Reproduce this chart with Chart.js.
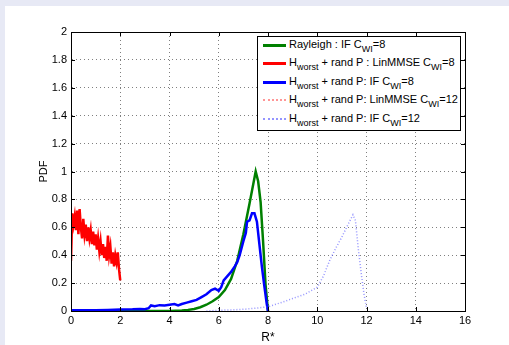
<!DOCTYPE html>
<html>
<head>
<meta charset="utf-8">
<script src="https://cdn.jsdelivr.net/npm/chart.js@4"></script>
<style>
  body { margin: 0; background: #e7e9f5; width: 509px; height: 345px; overflow: hidden; font-family: "Liberation Sans", Arial, sans-serif; }
  #panel { position: absolute; left: 5px; top: 6px; width: 504px; height: 339px; background: #fff; }
  #legend { position: absolute; left: 257px; top: 36px; width: 202px; height: 93px; border: 1px solid #000; background: #fff; font-size: 11px; color: #000; }
  .row { position: absolute; left: 0; height: 14px; white-space: nowrap; }
  .smp { position: absolute; left: 5px; top: 6px; width: 23px; height: 0; }
  .lbl { position: absolute; left: 31px; top: -1px; line-height: 14px; }
  sub { font-size: 9px; vertical-align: -4px; line-height: 0; }
</style>
</head>
<body>
<div id="panel"><canvas id="pdfChart"></canvas></div>
<div id="legend"></div>
<script>
// Rayleigh : IF C_WI=8
var greenX = [0, 1, 2, 3, 4, 4.25, 4.5, 4.75, 5.0, 5.25, 5.5, 5.75, 6.0, 6.25, 6.5, 6.75, 7.0, 7.25, 7.5, 7.6, 7.7, 7.8, 7.9, 8.0];
var greenY = [0, 0, 0, 0, 0, 0.002, 0.004, 0.008, 0.015, 0.027, 0.045, 0.07, 0.1, 0.15, 0.23, 0.36, 0.55, 0.77, 1.0, 0.93, 0.78, 0.5, 0.19, 0.0];

// H_worst + rand P : LinMMSE C_WI=8
var redX = [0, 0.05, 0.1, 0.15, 0.2, 0.25, 0.3, 0.35, 0.4, 0.45, 0.5, 0.55, 0.6, 0.65, 0.7, 0.75, 0.8, 0.85, 0.9, 0.95, 1.0,
            1.05, 1.1, 1.15, 1.2, 1.25, 1.3, 1.35, 1.4, 1.45, 1.5, 1.55, 1.6, 1.65, 1.7, 1.75, 1.8, 1.85, 1.9, 1.95, 2.0];
var redY = [0.36, 0.70, 0.62, 0.68, 0.58, 0.72, 0.55, 0.73, 0.60, 0.52, 0.66, 0.55, 0.62, 0.50, 0.60, 0.52, 0.58, 0.48, 0.57, 0.47, 0.55,
            0.44, 0.52, 0.43, 0.50, 0.40, 0.48, 0.38, 0.46, 0.36, 0.54, 0.40, 0.46, 0.34, 0.42, 0.32, 0.40, 0.35, 0.42, 0.30, 0.22];

// H_worst + rand P: IF C_WI=8
var blueX = [0, 0.5, 1.0, 1.5, 2.0, 2.5, 2.8, 3.0, 3.15, 3.25, 3.4, 3.6, 3.8, 4.0, 4.2, 4.35, 4.5, 4.7, 4.9, 5.1, 5.3, 5.5, 5.7, 5.85,
             6.0, 6.1, 6.2, 6.35, 6.5, 6.65, 6.75, 6.85, 7.0, 7.1, 7.15, 7.25, 7.35, 7.45, 7.55, 7.65, 7.75, 7.85, 7.95, 8.0];
var blueY = [0.005, 0.006, 0.005, 0.007, 0.01, 0.012, 0.015, 0.013, 0.02, 0.04, 0.035, 0.042, 0.04, 0.045, 0.05, 0.04, 0.05, 0.06, 0.07, 0.08, 0.10, 0.12, 0.15, 0.16,
             0.145, 0.17, 0.22, 0.25, 0.28, 0.32, 0.35, 0.40, 0.50, 0.56, 0.64, 0.65, 0.70, 0.70, 0.64, 0.48, 0.32, 0.18, 0.05, 0.0];

// H_worst + rand P: LinMMSE C_WI=12 (not visible in the plot)
var redDotX = [];
var redDotY = [];

// H_worst + rand P: IF C_WI=12
var blueDotX = [5.5, 6.0, 6.5, 7.0, 7.5, 8.0, 8.35, 8.7, 9.0, 9.5, 9.8, 10.0, 10.25, 10.5, 10.75, 11.0, 11.25, 11.45, 11.55, 11.67, 11.8, 11.9, 12.0];
var blueDotY = [0.0, 0.005, 0.008, 0.012, 0.02, 0.03, 0.05, 0.07, 0.09, 0.12, 0.15, 0.17, 0.25, 0.36, 0.45, 0.53, 0.62, 0.69, 0.65, 0.44, 0.25, 0.12, 0.02];

var xTicks = [0, 2, 4, 6, 8, 10, 12, 14, 16];
var yTicks = [0, 0.2, 0.4, 0.6, 0.8, 1, 1.2, 1.4, 1.6, 1.8, 2];

var legendLabels = [
    'Rayleigh : IF C<sub>WI</sub>=8',
    'H<sub>worst</sub> + rand P : LinMMSE C<sub>WI</sub>=8',
    'H<sub>worst</sub> + rand P: IF C<sub>WI</sub>=8',
    'H<sub>worst</sub> + rand P: LinMMSE C<sub>WI</sub>=12',
    'H<sub>worst</sub> + rand P: IF C<sub>WI</sub>=12'
];

function pts(xs, ys) {
    return xs.map(function (x, i) { return { x: x, y: ys[i] }; });
}

var styles = [
    { color: '#008000', width: 2.5, dash: [] },
    { color: '#ff0000', width: 2.5, dash: [] },
    { color: '#0000ff', width: 2.5, dash: [] },
    { color: 'rgba(255,80,80,0.6)', width: 1.5, dash: [1, 2] },
    { color: 'rgba(90,90,255,0.65)', width: 1.5, dash: [1, 2] }
];
var series = [pts(greenX, greenY), pts(redX, redY), pts(blueX, blueY), pts(redDotX, redDotY), pts(blueDotX, blueDotY)];

var datasets = series.map(function (d, i) {
    return {
        label: legendLabels[i],
        data: d,
        borderColor: styles[i].color,
        borderWidth: styles[i].width,
        borderDash: styles[i].dash,
        pointRadius: 0,
        tension: 0,
        fill: false,
        order: 5 - i
    };
});

// box + inward tick marks like the matlab axes
var framePlugin = {
    id: 'frame',
    afterDraw: function (chart) {
        var ctx = chart.ctx, a = chart.chartArea;
        var xs = chart.scales.x, ys = chart.scales.y;
        ctx.save();
        ctx.strokeStyle = '#000';
        ctx.lineWidth = 1;
        ctx.strokeRect(Math.round(a.left) + 0.5, Math.round(a.top) + 0.5, Math.round(a.right - a.left), Math.round(a.bottom - a.top));
        ctx.beginPath();
        xTicks.forEach(function (t) {
            var px = Math.round(xs.getPixelForValue(t)) + 0.5;
            ctx.moveTo(px, a.bottom); ctx.lineTo(px, a.bottom - 4);
            ctx.moveTo(px, a.top); ctx.lineTo(px, a.top + 4);
        });
        yTicks.forEach(function (t) {
            var py = Math.round(ys.getPixelForValue(t)) + 0.5;
            ctx.moveTo(a.left, py); ctx.lineTo(a.left + 4, py);
            ctx.moveTo(a.right, py); ctx.lineTo(a.right - 4, py);
        });
        ctx.stroke();
        ctx.restore();
    }
};

var tickFont = { family: "'Liberation Sans', Arial, sans-serif", size: 11 };

var ctx = document.getElementById('pdfChart').getContext('2d');
var pdfChart = new Chart(ctx, {
    type: 'line',
    data: { datasets: datasets },
    options: {
        responsive: true,
        maintainAspectRatio: false,
        animation: false,
        layout: { padding: { left: 0, top: 26, right: 44, bottom: 0 } },
        plugins: { legend: { display: false }, tooltip: { enabled: false } },
        scales: {
            x: {
                type: 'linear',
                min: 0, max: 16,
                afterBuildTicks: function (s) { s.ticks = xTicks.map(function (v) { return { value: v }; }); },
                afterFit: function (s) { s.height = 34; },
                ticks: { color: '#000', font: tickFont, padding: 3, maxRotation: 0, callback: function (v) { return String(v); } },
                grid: { color: 'rgba(0,0,0,0.5)', drawTicks: false },
                border: { color: '#000', dash: [1, 3] },
                title: { display: true, text: 'R*', color: '#000', font: { family: tickFont.family, size: 12 }, padding: { top: 0, bottom: 0 } }
            },
            y: {
                min: 0, max: 2,
                afterBuildTicks: function (s) { s.ticks = yTicks.map(function (v) { return { value: v }; }); },
                afterFit: function (s) { s.width = 66; },
                ticks: { color: '#000', font: tickFont, padding: 4, callback: function (v) { return String(Math.round(v * 10) / 10); } },
                grid: { color: 'rgba(0,0,0,0.5)', drawTicks: false },
                border: { color: '#000', dash: [1, 3] },
                title: { display: true, text: 'PDF', color: '#000', font: tickFont, padding: { top: 32, bottom: 32 } }
            }
        }
    },
    plugins: [framePlugin]
});

// legend with subscripts
var legendDiv = document.getElementById('legend');
var rowTops = [1, 19, 38, 56, 75];
legendLabels.forEach(function (txt, i) {
    var row = document.createElement('div');
    row.className = 'row';
    row.style.top = rowTops[i] + 'px';
    var smp = document.createElement('div');
    smp.className = 'smp';
    if (styles[i].dash.length) {
        smp.style.borderTop = '2px dotted ' + styles[i].color;
    } else {
        smp.style.borderTop = '3px solid ' + styles[i].color;
    }
    var lbl = document.createElement('span');
    lbl.className = 'lbl';
    lbl.innerHTML = txt;
    row.appendChild(smp);
    row.appendChild(lbl);
    legendDiv.appendChild(row);
});
</script>
</body>
</html>
